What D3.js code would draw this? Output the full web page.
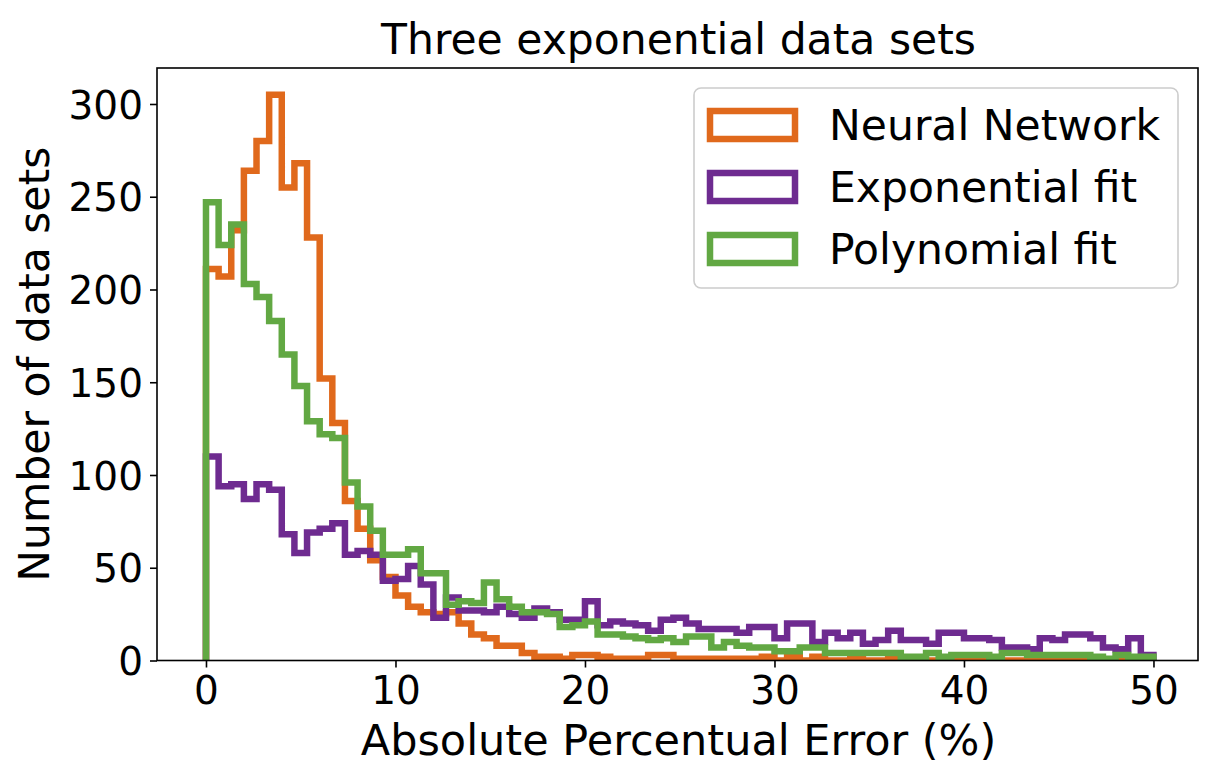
<!doctype html>
<html>
<head>
<meta charset="utf-8"/>
<script src="https://cdnjs.cloudflare.com/ajax/libs/d3/7.8.5/d3.min.js"></script>
<style>
  body { margin: 0; background: #fff; }
  svg { font-family: "DejaVu Sans", sans-serif; }
</style>
</head>
<body>
<svg id="chart" width="1210" height="766"></svg>
<script>
// histogram counts, 75 bins of width 2/3 from 0 to 50
var nBins = 75;
var binMax = 50;

var neuralNetwork = [211, 207, 232, 264, 280, 305, 255, 268, 228, 152,
  128, 86, 71, 54, 45, 35, 29, 26, 25, 26,
  20, 14, 12, 8, 8, 4, 2, 2, 1, 3,
  3, 2, 1, 1, 1, 3, 3, 1, 1, 1,
  1, 1, 1, 1, 2, 0, 2, 0, 2, 0,
  0, 1, 0, 0, 1, 0, 0, 0, 0, 0,
  1, 0, 0, 0, 0, 0, 0, 0, 0, 0,
  0, 0, 0, 0, 0];

var exponentialFit = [110, 94, 95, 87, 95, 92, 68, 58, 69, 71,
  74, 57, 59, 57, 43, 44, 51, 41, 23, 34,
  27, 27, 26, 29, 25, 23, 28, 26, 22, 22,
  32, 19, 21, 20, 19, 16, 22, 23, 20, 17,
  17, 17, 15, 18, 18, 12, 20, 20, 10, 15,
  12, 15, 9, 11, 16, 11, 11, 9, 15, 15,
  12, 12, 11, 7, 7, 6, 12, 11, 14, 14,
  12, 7, 6, 12, 3];

var polynomialFit = [247, 224, 235, 203, 196, 183, 165, 148, 129, 122,
  120, 96, 83, 70, 57, 57, 60, 47, 47, 30,
  32, 31, 42, 33, 29, 26, 26, 25, 18, 19,
  21, 14, 14, 13, 12, 11, 12, 10, 13, 13,
  7, 10, 8, 7, 7, 5, 5, 7, 7, 4,
  4, 4, 4, 4, 4, 2, 2, 4, 2, 3,
  3, 3, 2, 4, 4, 3, 3, 3, 3, 3,
  2, 1, 3, 2, 2];

var seriesNames = ["Neural Network", "Exponential fit", "Polynomial fit"];
var seriesColors = ["#e0691c", "#6e2b90", "#62a843"];
var xTicks = [0, 10, 20, 30, 40, 50];
var yTicks = [0, 50, 100, 150, 200, 250, 300];

var svg = d3.select("#chart");
var plotLeft = 157, plotRight = 1198, plotTop = 68, plotBottom = 660.5;

var xScale = d3.scaleLinear().domain([-2.585, 52.35]).range([plotLeft, plotRight]);
var yScale = d3.scaleLinear().domain([0, 319.4]).range([plotBottom, plotTop]);

svg.append("defs").append("clipPath").attr("id", "plotClip")
  .append("rect").attr("x", plotLeft).attr("y", plotTop - 4)
  .attr("width", plotRight - plotLeft).attr("height", plotBottom - plotTop + 4);

function stepPoints(counts) {
  var w = binMax / nBins;
  var pts = [[0, 0]];
  counts.forEach(function(c, i) {
    pts.push([i * w, c]);
    pts.push([(i + 1) * w, c]);
  });
  pts.push([nBins * w, 0]);
  return pts;
}

var line = d3.line()
  .x(function(d) { return xScale(d[0]); })
  .y(function(d) { return yScale(d[1]); });

var allSeries = [neuralNetwork, exponentialFit, polynomialFit];

svg.append("g").attr("clip-path", "url(#plotClip)")
  .selectAll("path")
  .data(allSeries).enter()
  .append("path")
  .attr("d", function(d) { return line(stepPoints(d)); })
  .attr("fill", "none")
  .attr("stroke", function(d, i) { return seriesColors[i]; })
  .attr("stroke-width", 6.5)
  .attr("stroke-linejoin", "miter");

// axes
var xAxis = d3.axisBottom(xScale).tickValues(xTicks).tickSize(7).tickPadding(9);
var yAxis = d3.axisLeft(yScale).tickValues(yTicks).tickSize(7).tickPadding(7);

var gx = svg.append("g").attr("transform", "translate(0," + plotBottom + ")").call(xAxis);
var gy = svg.append("g").attr("transform", "translate(" + plotLeft + ",0)").call(yAxis);

[gx, gy].forEach(function(g) {
  g.select(".domain").remove();
  g.selectAll(".tick line").attr("stroke", "#000").attr("stroke-width", 1.6);
  g.selectAll(".tick text").attr("fill", "#000")
    .style("font-size", "39px").style("font-family", "DejaVu Sans");
});
gy.selectAll(".tick text").attr("dy", "0.36em");

// frame
svg.append("rect")
  .attr("x", plotLeft).attr("y", plotTop)
  .attr("width", plotRight - plotLeft).attr("height", plotBottom - plotTop)
  .attr("fill", "none").attr("stroke", "#000").attr("stroke-width", 1.6);

// labels
svg.append("text")
  .attr("x", (plotLeft + plotRight) / 2 + 1).attr("y", 54)
  .attr("text-anchor", "middle")
  .style("font-size", "42.5px")
  .text("Three exponential data sets");

svg.append("text")
  .attr("x", (plotLeft + plotRight) / 2 + 1).attr("y", 755)
  .attr("text-anchor", "middle")
  .style("font-size", "43px")
  .text("Absolute Percentual Error (%)");

svg.append("text")
  .attr("transform", "translate(49," + (plotTop + plotBottom) / 2 + ") rotate(-90)")
  .attr("text-anchor", "middle")
  .style("font-size", "42.5px")
  .text("Number of data sets");

// legend
var legend = svg.append("g");
legend.append("rect")
  .attr("x", 694).attr("y", 88).attr("width", 484).attr("height", 200)
  .attr("rx", 7).attr("ry", 7)
  .attr("fill", "#fff").attr("fill-opacity", 0.8)
  .attr("stroke", "#cccccc").attr("stroke-width", 1.6);

var items = legend.selectAll("g.item")
  .data(seriesNames).enter()
  .append("g").attr("class", "item")
  .attr("transform", function(d, i) { return "translate(0," + (125 + i * 62) + ")"; });

items.append("rect")
  .attr("x", 710).attr("y", -14).attr("width", 85).attr("height", 28)
  .attr("fill", "none")
  .attr("stroke", function(d, i) { return seriesColors[i]; })
  .attr("stroke-width", 6.5);

items.append("text")
  .attr("x", 829).attr("y", 0).attr("dy", "0.36em")
  .style("font-size", "42.5px")
  .text(function(d) { return d; });
</script>
</body>
</html>
